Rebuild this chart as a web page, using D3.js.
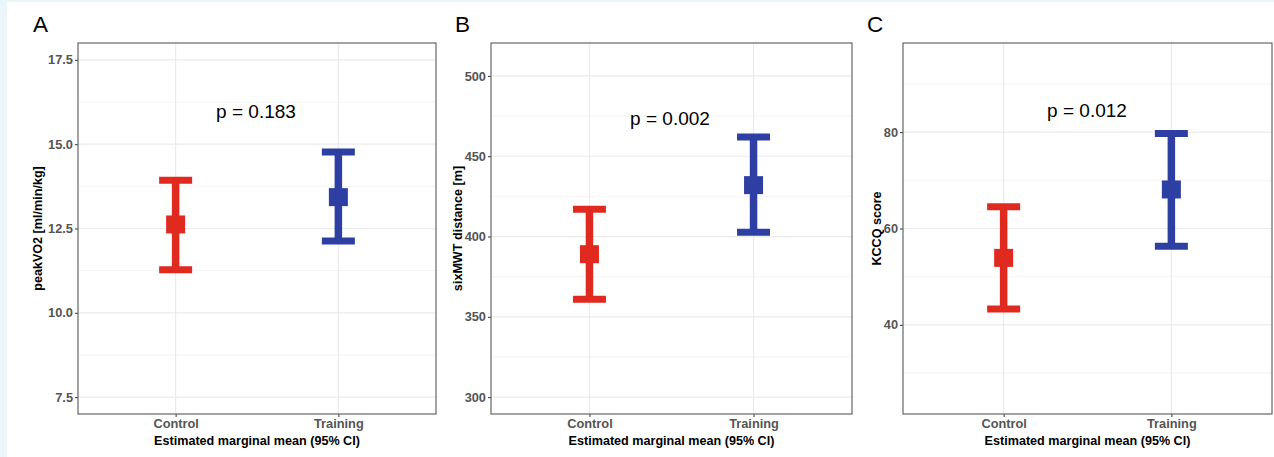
<!DOCTYPE html>
<html>
<head>
<meta charset="utf-8">
<script src="https://cdn.jsdelivr.net/npm/d3@7"></script>
<style>
  body { margin: 0; background: #eaf6fa; }
  svg { display: block; }
</style>
</head>
<body>
<script>

// Data

var groups = ['Control', 'Training'];
var colors = ['#e02a20', '#2e3fa4'];

var panelLabels = ['A', 'B', 'C'];
var yTitles = ['peakVO2 [ml/min/kg]', 'sixMWT distance [m]', 'KCCQ score'];
var pValues = ['p = 0.183', 'p = 0.002', 'p = 0.012'];

var meansA = [12.62, 13.43];
var lowerA = [11.28, 12.13];
var upperA = [13.93, 14.77];
var ticksA = [7.5, 10.0, 12.5, 15.0, 17.5];
var minorA = [8.75, 11.25, 13.75, 16.25];
var limitsA = [7.5, 17.5];

var meansB = [389, 432];
var lowerB = [361, 402.6];
var upperB = [417, 462];
var ticksB = [300, 350, 400, 450, 500];
var minorB = [325, 375, 425, 475];
var limitsB = [300, 510];

var meansC = [53.9, 68.1];
var lowerC = [43.3, 56.3];
var upperC = [64.5, 79.7];
var ticksC = [40, 60, 80];
var minorC = [30, 50, 70, 90];
var limitsC = [25, 95];

// Layout

var width = 1274;
var height = 457;
var plotTop = 43, plotBottom = 414;
var boxes = [[78, 436], [491, 852], [903, 1272]];
var titleX = [38, 458, 877];
var pPos = [[256, 118], [670, 125], [1087, 117]];
var labelX = [33, 455, 867];

var panels = [
  { means: meansA, lower: lowerA, upper: upperA, ticks: ticksA, minor: minorA, limits: limitsA, fmt: d3.format('.1f') },
  { means: meansB, lower: lowerB, upper: upperB, ticks: ticksB, minor: minorB, limits: limitsB, fmt: d3.format('d') },
  { means: meansC, lower: lowerC, upper: upperC, ticks: ticksC, minor: minorC, limits: limitsC, fmt: d3.format('d') }
];

var svg = d3.select('body')
  .append('svg')
  .attr('width', width)
  .attr('height', height)
  .style('font-family', 'Liberation Sans, Arial, sans-serif');

svg.append('rect')
  .attr('x', 7).attr('y', 2)
  .attr('width', width - 7).attr('height', height - 2)
  .attr('fill', '#fff');

panels.forEach(function (p, i) {

  var x0 = boxes[i][0], x1 = boxes[i][1];
  var span = p.limits[1] - p.limits[0];

  var y = d3.scaleLinear()
    .domain([p.limits[0] - span * 0.05, p.limits[1] + span * 0.05])
    .range([plotBottom, plotTop]);

  var x = d3.scalePoint()
    .domain(groups)
    .range([x0, x1])
    .padding(0.6);

  var g = svg.append('g');

  // grid
  g.selectAll('.minor')
    .data(p.minor)
    .enter().append('line')
    .attr('x1', x0).attr('x2', x1)
    .attr('y1', function (d) { return y(d); })
    .attr('y2', function (d) { return y(d); })
    .attr('stroke', '#f4f4f4').attr('stroke-width', 1);

  g.selectAll('.major')
    .data(p.ticks)
    .enter().append('line')
    .attr('x1', x0).attr('x2', x1)
    .attr('y1', function (d) { return y(d); })
    .attr('y2', function (d) { return y(d); })
    .attr('stroke', '#ebebeb').attr('stroke-width', 1.2);

  g.selectAll('.vgrid')
    .data(groups)
    .enter().append('line')
    .attr('x1', function (d) { return x(d); })
    .attr('x2', function (d) { return x(d); })
    .attr('y1', plotTop).attr('y2', plotBottom)
    .attr('stroke', '#ebebeb').attr('stroke-width', 1.2);

  // axes
  var yAxis = g.append('g')
    .attr('transform', 'translate(' + x0 + ',0)')
    .call(d3.axisLeft(y).tickValues(p.ticks).tickFormat(p.fmt).tickSize(3).tickPadding(2));

  var xAxis = g.append('g')
    .attr('transform', 'translate(0,' + plotBottom + ')')
    .call(d3.axisBottom(x).tickSize(3).tickPadding(2));

  [yAxis, xAxis].forEach(function (a) {
    a.select('.domain').remove();
    a.selectAll('line').attr('stroke', '#333');
    a.selectAll('text')
      .attr('fill', '#555')
      .style('font-size', '12.8px')
      .style('font-weight', 'bold')
      .style('font-family', 'Liberation Sans, Arial, sans-serif');
  });

  // panel box
  g.append('rect')
    .attr('x', x0).attr('y', plotTop)
    .attr('width', x1 - x0).attr('height', plotBottom - plotTop)
    .attr('fill', 'none')
    .attr('stroke', '#666').attr('stroke-width', 1.2);

  // error bars
  var bars = g.selectAll('.bar')
    .data(groups)
    .enter().append('g');

  bars.append('line')
    .attr('x1', function (d) { return x(d); })
    .attr('x2', function (d) { return x(d); })
    .attr('y1', function (d, j) { return y(p.upper[j]); })
    .attr('y2', function (d, j) { return y(p.lower[j]); })
    .attr('stroke', function (d, j) { return colors[j]; })
    .attr('stroke-width', 7.5);

  bars.append('line')
    .attr('x1', function (d) { return x(d) - 16.5; })
    .attr('x2', function (d) { return x(d) + 16.5; })
    .attr('y1', function (d, j) { return y(p.upper[j]); })
    .attr('y2', function (d, j) { return y(p.upper[j]); })
    .attr('stroke', function (d, j) { return colors[j]; })
    .attr('stroke-width', 7);

  bars.append('line')
    .attr('x1', function (d) { return x(d) - 16.5; })
    .attr('x2', function (d) { return x(d) + 16.5; })
    .attr('y1', function (d, j) { return y(p.lower[j]); })
    .attr('y2', function (d, j) { return y(p.lower[j]); })
    .attr('stroke', function (d, j) { return colors[j]; })
    .attr('stroke-width', 7);

  bars.append('rect')
    .attr('x', function (d) { return x(d) - 9.5; })
    .attr('y', function (d, j) { return y(p.means[j]) - 9; })
    .attr('width', 19).attr('height', 18)
    .attr('fill', function (d, j) { return colors[j]; });

  // texts
  g.append('text')
    .attr('transform', 'translate(' + titleX[i] + ',' + ((plotTop + plotBottom) / 2) + ') rotate(-90)')
    .attr('text-anchor', 'middle')
    .attr('dy', '0.35em')
    .style('font-size', '12.6px')
    .style('font-weight', 'bold')
    .text(yTitles[i]);

  g.append('text')
    .attr('x', (x0 + x1) / 2)
    .attr('y', 445)
    .attr('text-anchor', 'middle')
    .style('font-size', '12.6px')
    .style('font-weight', 'bold')
    .text('Estimated marginal mean (95% CI)');

  g.append('text')
    .attr('x', pPos[i][0])
    .attr('y', pPos[i][1])
    .attr('text-anchor', 'middle')
    .style('font-size', '19px')
    .text(pValues[i]);

  g.append('text')
    .attr('x', labelX[i])
    .attr('y', 32)
    .style('font-size', '22.5px')
    .text(panelLabels[i]);
});

</script>
</body>
</html>
